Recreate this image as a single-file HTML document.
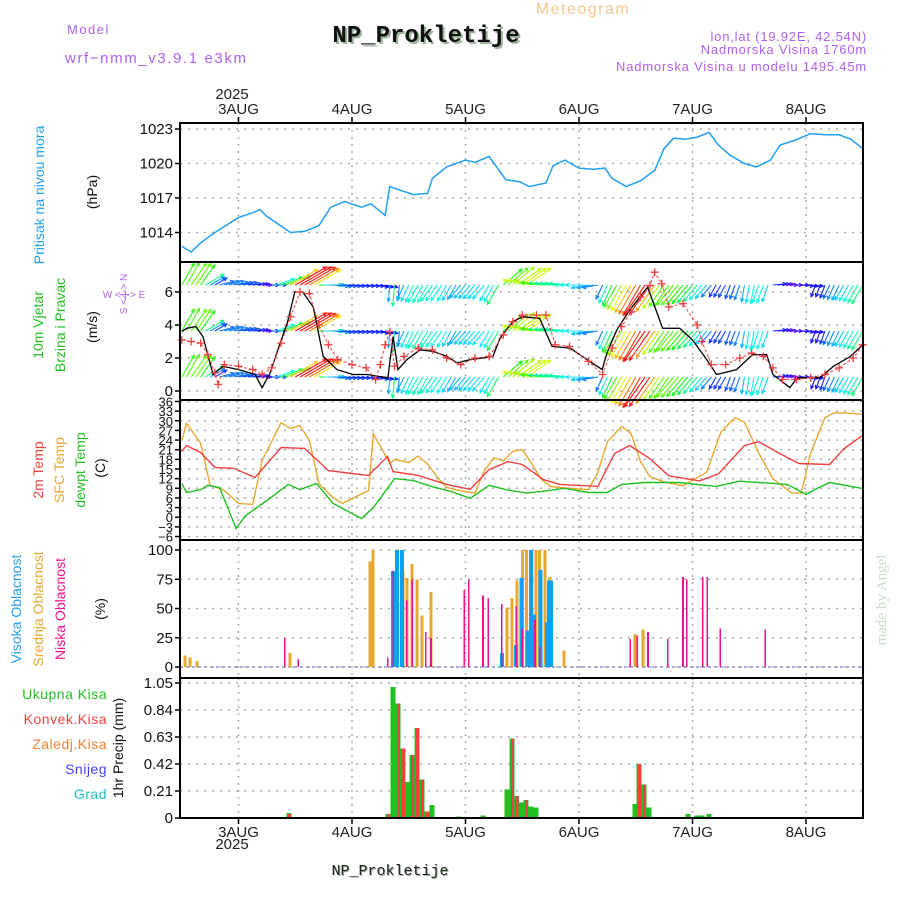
<!DOCTYPE html>
<html><head><meta charset="utf-8"><style>
html,body{margin:0;padding:0;background:#fff;}
svg{display:block;font-family:"Liberation Sans",sans-serif;}
</style></head><body>
<svg id="c" width="900" height="900" viewBox="0 0 900 900" xmlns="http://www.w3.org/2000/svg">
<text x="67" y="34" font-size="13" fill="#b060f0" letter-spacing="1.5">Model</text>
<text x="65" y="63" font-size="15" fill="#b060f0" letter-spacing="1.6">wrf−nmm_v3.9.1 e3km</text>
<text x="428" y="44" font-size="24" font-weight="bold" font-family="Liberation Mono,monospace" fill="#9cb39c" text-anchor="middle">NP_Prokletije</text>
<text x="426" y="42" font-size="24" font-weight="bold" font-family="Liberation Mono,monospace" fill="#111" text-anchor="middle">NP_Prokletije</text>
<text x="583" y="14" font-size="16" fill="#f0c890" text-anchor="middle" letter-spacing="1.5">Meteogram</text>
<text x="867" y="41" font-size="13" fill="#b060f0" text-anchor="end" letter-spacing="0.8">lon,lat (19.92E, 42.54N)</text>
<text x="867" y="54" font-size="13" fill="#b060f0" text-anchor="end" letter-spacing="0.8">Nadmorska Visina 1760m</text>
<text x="867" y="71" font-size="13" fill="#b060f0" text-anchor="end" letter-spacing="0.8">Nadmorska Visina u modelu 1495.45m</text>
<text x="232" y="99" font-size="15" fill="#222" text-anchor="middle">2025</text>
<text x="232" y="849" font-size="15" fill="#222" text-anchor="middle">2025</text>
<text x="391" y="876" font-size="15" font-family="Liberation Mono,monospace" fill="#9cb39c" text-anchor="middle">NP_Prokletije</text>
<text x="390" y="875" font-size="15" font-family="Liberation Mono,monospace" fill="#222" text-anchor="middle">NP_Prokletije</text>
<text transform="translate(886,600) rotate(-90)" font-size="15" font-family="Liberation Serif,serif" fill="#c8dcc8" text-anchor="middle">made by Angel</text>
<text transform="translate(44,195) rotate(-90)" font-size="14" fill="#20a0f0" text-anchor="middle">Pritisak na nivou mora</text>
<text transform="translate(97,192) rotate(-90)" font-size="14" fill="#111" text-anchor="middle">(hPa)</text>
<text transform="translate(43,325) rotate(-90)" font-size="14" fill="#20c020" text-anchor="middle">10m Vjetar</text>
<text transform="translate(65,325) rotate(-90)" font-size="14" fill="#20c020" text-anchor="middle">Brzina i Pravac</text>
<text transform="translate(97,327) rotate(-90)" font-size="14" fill="#111" text-anchor="middle">(m/s)</text>
<text x="124" y="298" font-size="10" fill="#b060f0" text-anchor="middle">W &lt;-|-&gt; E</text>
<text transform="translate(127,294) rotate(-90)" font-size="10" fill="#b060f0" text-anchor="middle">S &lt;-|-&gt; N</text>
<text transform="translate(43,470) rotate(-90)" font-size="14" fill="#f04040" text-anchor="middle">2m Temp</text>
<text transform="translate(64,470) rotate(-90)" font-size="14" fill="#e8a830" text-anchor="middle">SFC Temp</text>
<text transform="translate(85,470) rotate(-90)" font-size="14" fill="#20c020" text-anchor="middle">dewpt Temp</text>
<text transform="translate(105,468) rotate(-90)" font-size="14" fill="#111" text-anchor="middle">(C)</text>
<text transform="translate(21,609) rotate(-90)" font-size="14" fill="#20a0f0" text-anchor="middle">Visoka Oblacnost</text>
<text transform="translate(43,609) rotate(-90)" font-size="14" fill="#e8a830" text-anchor="middle">Srednja Oblacnost</text>
<text transform="translate(65,609) rotate(-90)" font-size="14" fill="#f01090" text-anchor="middle">Niska Oblacnost</text>
<text transform="translate(105,609) rotate(-90)" font-size="14" fill="#111" text-anchor="middle">(%)</text>
<text x="107" y="699" font-size="14" fill="#20c020" text-anchor="end" letter-spacing="0.5">Ukupna Kisa</text>
<text x="107" y="724" font-size="14" fill="#f04040" text-anchor="end" letter-spacing="0.5">Konvek.Kisa</text>
<text x="107" y="749" font-size="14" fill="#f08030" text-anchor="end" letter-spacing="0.5">Zaledj.Kisa</text>
<text x="107" y="774" font-size="14" fill="#4040f0" text-anchor="end" letter-spacing="0.5">Snijeg</text>
<text x="107" y="799" font-size="14" fill="#20c0c0" text-anchor="end" letter-spacing="0.5">Grad</text>
<text transform="translate(123,748) rotate(-90)" font-size="14" fill="#111" text-anchor="middle">1hr Precip (mm)</text>
<g id="plot"></g>
</svg>
<script>
// ---- data ----
const dayLabels = ["3AUG","4AUG","5AUG","6AUG","7AUG","8AUG"];
const pTimes = [-12,-10,-8,-5,0,3.5,4.5,6,11,14,17,19.5,22.5,24.5,26,28,31,32,34,37,40,41,44,48,50,53,56.5,59.5,61.5,65,66.5,69,72,75,77.5,79,82,85,88,90,92,94.5,97,99.5,101.5,104,107,109.5,112.5,114.5,117.5,121,124,127,129.5,132];
const pVals = [1012.8,1012.3,1013.1,1014,1015.3,1015.8,1016,1015.4,1014,1014.1,1014.6,1016.2,1016.7,1016.4,1016.2,1016.5,1015.5,1018,1017.7,1017.3,1017.4,1018.7,1019.7,1020.3,1020.1,1020.6,1018.6,1018.4,1018,1018.3,1019.8,1020.3,1019.6,1019.5,1019.6,1018.7,1018,1018.5,1019.4,1021.3,1022.2,1022.1,1022.3,1022.7,1021.6,1020.7,1020,1019.7,1020.3,1021.6,1022,1022.6,1022.5,1022.5,1022.1,1021.3];
const pTicks = [1014,1017,1020,1023];
const wsTimes = [-12,-11,-9,-7.5,-5.4,-3.3,0,3.5,5,6.7,8.8,10.3,11.9,13.6,15.8,17.9,20.8,24.2,27.2,31.6,32.7,33.7,35.6,38.4,41.1,44.1,46.2,49,51.7,53.8,55.3,58,60.1,63.7,66.3,70.1,73.7,76.9,77.9,80,82.7,86.5,89.7,93.3,96,99,101.1,105.3,108.7,111.7,113,116.6,118.1,123,125.8,129.4,132];
const wsVals = [3.6,3.8,3.9,3.3,1,1.5,1.3,1,0.2,1.1,2.9,4.1,6,6,5.1,2.1,1.3,1,1,0.8,3.3,1.3,1.9,2.5,2.4,2.1,1.7,1.9,2,2.1,3.2,4.2,4.5,4.4,2.7,2.6,1.9,1.3,2.3,3.7,4.9,6.3,3.8,3.8,3.1,1.9,1,1.3,2.2,2.2,1,0.2,0.8,0.8,1.5,2.1,2.8];
const gTimes = [-12,-10,-8,-6.5,-5,-4.3,-3,0,3,5,7,9,11,13,15,17,19,21,24,27,29,30,31,32,33,35,38,41,44,47,50,53,56,58,60,63,65,67,70,74,77,79,81,83,85,87,88,89.5,91,94,97,98,100,103,106,108.5,111,113,115,118,121,124,127,130,132];
const gVals = [3.1,3.0,2.9,2.2,1.1,0.4,1.6,1.5,1.3,1.0,1.4,2.9,4.5,6.0,5.9,4.0,2.8,1.9,1.6,1.4,0.7,1.6,2.8,3.6,1.5,2.1,2.6,2.5,2.0,1.6,2.0,2.1,3.4,4.2,4.6,4.6,4.6,2.8,2.7,1.8,1.0,2.6,3.9,4.8,5.7,6.4,7.2,6.5,5.1,5.3,4.0,3.0,1.6,1.6,2.0,2.3,2.1,1.4,0.7,0.7,0.8,1.0,1.4,2.0,2.8];
const wsTicks = [0,2,4,6];
const wdTimes = [-12,-9,-6,-3,0,3,6,9,12,15,18,21,24,27,30,33,36,39,42,45,48,51,54,57,60,63,66,69,72,75,78,81,84,87,90,93,96,99,102,105,108,111,114,117,120,123,126,129,132];
const wdDeg = [60,55,30,15,10,5,0,20,30,30,0,-5,-5,-5,-10,-95,-115,-120,-125,-120,-130,-130,-120,40,35,170,175,175,180,-170,-115,-120,-120,-125,-125,-130,-130,-130,-120,-110,-100,-110,5,0,-5,-110,-115,-120,-120];
const tTicks = [-6,-3,0,3,6,9,12,15,18,21,24,27,30,33,36];
const sfcTimes = [-12,-11,-8,-6,-3,0,3,5,9,11,13,15,17,20,22,27.5,28.5,32,33,36,38,40,42,44,46,48,50,52,54,56,58,60,62,64,66,70,74,76,78,81,83,85,87,90,94,99,102,105,107,110,113,117,119,121,124,126,128,132];
const sfcVals = [23.9,29.2,23,10,8.3,4.3,4,17.6,29.4,27.6,28.5,23.9,10.5,6.1,4.3,8.3,26,16.7,18,17,19,16.5,12.5,9.3,8.5,8,7.5,14.5,18.5,17.5,20.5,21,16.7,11.8,9.6,9,8.6,14,23.5,28.2,26,17.3,12.6,11,9.8,14,26.5,31,29.5,20,12,7.5,7.5,20,31,32.5,32.5,32];
const t2Times = [-12,-11,-8,-5,-1,3.5,9,14,19,24,27.5,31.5,32.7,38,44,49,53,57,60,64.5,68,76,79.5,82.7,87,91,97.5,101.5,107,110,114.5,118.5,125,128,132];
const t2Vals = [20.4,22.3,20.1,15.5,15.2,12.4,21.7,21.4,14.5,13.6,13,18.9,14.2,13,10.2,8.7,14.8,17.3,16.4,11.7,10.2,9.6,19.8,22.3,18.2,12.9,11.3,13.5,22.3,23.5,19.8,16.7,16.4,21.3,25.5];
const tdTimes = [-12,-11,-8,-6.5,-4,-0.5,1.5,6,10.5,13,16.5,20,26,28.5,31.5,33,37,41,45,49,53,57,61,65,69,74,78,81,86,93,97,101,106,110,116,120,122,125,132];
const tdVals = [10.5,7.7,8.6,9.9,9.2,-3.5,0.5,5.2,10.2,8.6,10.5,4.3,-0.4,3,9,12,11.4,9.5,8,5.9,9.9,8.4,7.5,8.2,9,7.7,7.7,10.2,10.8,10.8,10.2,9.6,11.2,10.8,10.2,7.1,8.7,10.8,8.9];
const cTicks = [0,25,50,75,100];
const cHighTimes = [32.7,33.5,34.6,55.7,58.7,59.8,61.1,61.9,62.5,63.9,65.2,65.7,66.1];
const cHighVals = [82,100,100,12,19,76,31,100,45,83,38,74,74];
const cMidTimes = [-11.3,-10.3,-8.8,10.9,27.8,28.4,32.7,33.7,34.8,35.6,36.7,37.7,38.8,40.7,56.8,57.8,58.9,60,60.9,62.1,62.9,63.7,64.8,65.9,68.8,83.8,85.5];
const cMidVals = [10,8,5,12,90,100,82,56,81,76,88,75,44,64,51,59,74,100,100,100,100,100,100,77,14,28,32];
const cLowTimes = [9.8,12.6,31.6,32.7,35.6,36.7,39.6,40.7,47.7,48.7,51.7,52.8,55.7,58.7,60,62.7,63.7,82.8,84.3,86.6,90.8,94,94.8,98.2,99.1,101.9,111.4];
const cLowVals = [25,7,8,82,57,75,30,25,66,75,61,59,54,52,33,40,17,24,27,30,24,77,75,77,77,33,32];
const prTicks = [0,0.21,0.42,0.63,0.84,1.05];
const prTicksLbl = ["0","0.21","0.42","0.63","0.84","1.05"];
const prTotTimes = [10.7,31.6,32.7,33.7,34.8,35.6,36.7,37.7,38.8,39.9,40.9,46.6,51.7,56.8,57.8,58.8,59.8,60.8,61.9,62.9,83.8,84.7,85.7,86.8,95,97,98,99.5];
const prTotVals = [0.04,0.03,1.02,0.89,0.54,0.28,0.49,0.70,0.30,0.05,0.10,0.01,0.02,0.22,0.62,0.17,0.12,0.14,0.09,0.08,0.11,0.42,0.26,0.08,0.03,0.02,0.02,0.03];
const prConTimes = [10.7,31.6,33.7,34.8,36.7,37.7,38.8,39.9,57.8,58.8,60.8,84.7,85.7];
const prConVals = [0.03,0.03,0.89,0.54,0.49,0.70,0.30,0.05,0.62,0.17,0.14,0.42,0.26];

// ---- axes ----
const X0=180, X1=863;
const xs = h => 238.5 + h*113.5/24;
const yP = v => 129 + (1023-v)*11.5;
const yW = v => 391 - v*16.5;
const yT = v => 536.5 - (v+6)*135/42;
const yC = v => 667 - v*1.17;
const yR = v => 818 - v*135/1.05;
const NS="http://www.w3.org/2000/svg";
const plot=document.getElementById('plot');
function mk(tag,attrs,parent){const e=document.createElementNS(NS,tag);for(const k in attrs)e.setAttribute(k,attrs[k]);(parent||plot).appendChild(e);return e;}
function lineStr(ts,vs,yf){return ts.map((t,i)=>xs(t).toFixed(1)+","+yf(vs[i]).toFixed(1)).join(" ");}
const panels=[[123,262,"pressure-panel"],[262,400,"wind-panel"],[400,540,"temperature-panel"],[540,678,"cloud-panel"],[678,818,"precip-panel"]];
panels.forEach(p=>{
  dayLabels.forEach((d,i)=>{
    const g=mk('line',{x1:xs(i*24),x2:xs(i*24),y1:p[0],y2:p[1],stroke:'#aaa','stroke-width':1.5,'stroke-dasharray':'2,5'});
    
    
  });
});
function hgrid(ticks,yf,labels,fs,name){
  ticks.forEach((t,i)=>{
    const y=yf(t);
    const g=mk('line',{x1:X0,x2:X1,y1:y,y2:y,stroke:'#aaa','stroke-width':1.5,'stroke-dasharray':'2,6'});
    
    
    mk('line',{x1:X0-5,x2:X0,y1:y,y2:y,stroke:'#000','stroke-width':1.5});
    const tx=mk('text',{x:X0-7,y:y+5,'font-size':fs,'text-anchor':'end',fill:'#111'});
    tx.textContent=labels?labels[i]:String(t);
    
    
  });
}
hgrid(pTicks,yP,null,15,'pressure');
hgrid(wsTicks,yW,null,15,'wind');
hgrid(tTicks,yT,tTicks.map(t=>t<0?"−"+(-t):String(t)),13,'temp');
hgrid(cTicks,yC,null,15,'cloud');
hgrid(prTicks,yR,prTicksLbl,15,'precip');
dayLabels.forEach((d,i)=>{
  const x=xs(i*24);
  const t=mk('text',{x:x,y:114,'font-size':15,'text-anchor':'middle',fill:'#222'});t.textContent=d;
  
  
  mk('line',{x1:x,x2:x,y1:117,y2:123,stroke:'#000','stroke-width':1.5});
  const b=mk('text',{x:x,y:837,'font-size':15,'text-anchor':'middle',fill:'#222'});b.textContent=d;
  
  
  mk('line',{x1:x,x2:x,y1:818,y2:824,stroke:'#000','stroke-width':1.5});
});
const pl=mk('polyline',{points:lineStr(pTimes,pVals,yP),fill:'none',stroke:'#20a0f0','stroke-width':1.5});


function interp(ts,vs,t){if(t<=ts[0])return vs[0];for(let i=1;i<ts.length;i++){if(t<=ts[i]){const f=(t-ts[i-1])/(ts[i]-ts[i-1]);return vs[i-1]+f*(vs[i]-vs[i-1]);}}return vs[vs.length-1];}
function nearestDir(t){let bi=0,bd=1e9;wdTimes.forEach((w,i)=>{const d=Math.abs(w-t);if(d<bd){bd=d;bi=i;}});return wdDeg[bi];}
const rows=[285,331,377];
rows.forEach(ry=>{
  for(let t=-12;t<=132;t+=1){
    const s=interp(wsTimes,wsVals,t);
    const hue=Math.max(0,280-s*47);
    const col='hsl('+hue+',95%,52%)';
    const L=9+s*4.5, a=nearestDir(t)*Math.PI/180;
    const x=xs(t), x2=x+L*Math.cos(a), y2=ry-L*Math.sin(a);
    const g=mk('g',{stroke:col,'stroke-width':1.1,fill:'none'});
    
    
    mk('line',{x1:x,y1:ry,x2:x2,y2:y2},g);
    const h1=a+Math.PI-0.45,h2=a+Math.PI+0.45;
    mk('polyline',{points:(x2+4*Math.cos(h1))+","+(y2-4*Math.sin(h1))+" "+x2+","+y2+" "+(x2+4*Math.cos(h2))+","+(y2-4*Math.sin(h2))},g);
  }
});
const wl=mk('polyline',{points:lineStr(wsTimes,wsVals,yW),fill:'none',stroke:'#000','stroke-width':1.3});


const gl=mk('polyline',{points:lineStr(gTimes,gVals,yW),fill:'none',stroke:'#f04040','stroke-width':1,'stroke-dasharray':'3,2'});


gTimes.forEach((t,i)=>{
  const x=xs(t),y=yW(gVals[i]);
  const m=mk('path',{d:`M${x-4},${y}H${x+4}M${x},${y-4}V${y+4}`,stroke:'#f04040','stroke-width':1.3});
  
  
});
[[sfcTimes,sfcVals,'#e8a830','sfc-temp-line'],[t2Times,t2Vals,'#f04040','temp-2m-line'],[tdTimes,tdVals,'#20c020','dewpoint-line']].forEach(s=>{
  const l=mk('polyline',{points:lineStr(s[0],s[1],yT),fill:'none',stroke:s[2],'stroke-width':1.4});
  
  
});
mk('line',{x1:X0,x2:X1,y1:667,y2:667,stroke:'#9090d0','stroke-width':1.5,'stroke-dasharray':'3,3'});
function bars(ts,vs,yf,w,col,name,off){
  ts.forEach((t,i)=>{
    const x=xs(t)+(off||0), y=yf(vs[i]), y0=yf(0);
    const r=mk('rect',{x:(x-w/2).toFixed(1),y:y,width:w,height:Math.max(0,y0-y),fill:col,'shape-rendering':'crispEdges'});
    
    
  });
}
bars(cMidTimes,cMidVals,yC,3,'#e8a830','cloud-mid-bar');
bars(cHighTimes,cHighVals,yC,4,'#10a0f0','cloud-high-bar');
bars(cLowTimes,cLowVals,yC,1.6,'#f01090','cloud-low-bar');
bars(prTotTimes,prTotVals,yR,5,'#20c020','precip-total-bar');
bars(prConTimes,prConVals,yR,3,'#f04040','precip-convective-bar',0.5);
mk('line',{x1:X0,x2:X1,y1:818,y2:818,stroke:'#000','stroke-width':2,'stroke-dasharray':'6,2'});
panels.forEach(p=>{
  const r=mk('rect',{x:X0,y:p[0],width:X1-X0,height:p[1]-p[0],fill:'none',stroke:'#000','stroke-width':2});
  
  
});
</script>
</body></html>
